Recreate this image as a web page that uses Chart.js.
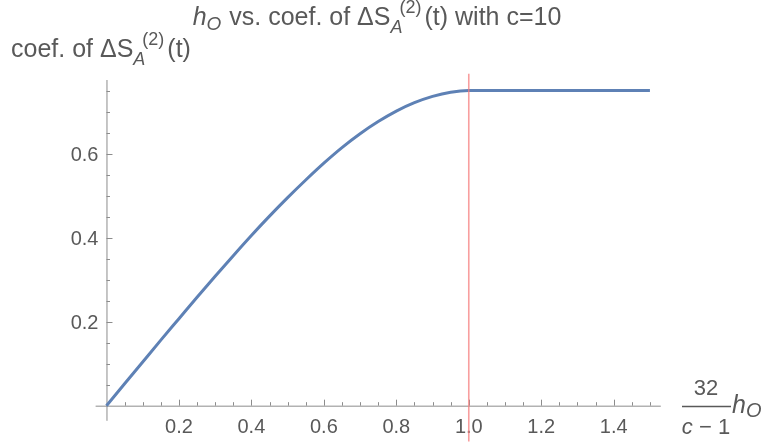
<!DOCTYPE html>
<html>
<head>
<meta charset="utf-8">
<script src="https://cdn.jsdelivr.net/npm/chart.js@4.4.1/dist/chart.umd.min.js"></script>
<style>
  body { margin: 0; background: #fff; }
  #wrap { width: 767px; height: 442px; }
</style>
</head>
<body>
<div id="wrap"><canvas id="coefChart" width="767" height="442"></canvas></div>
<script>
// values (x = 32 h_O/(c-1), y = coef. of dS_A^(2)(t))
const hValues    = [0, 0.05, 0.1, 0.15, 0.2, 0.25, 0.3, 0.35, 0.4, 0.45, 0.5, 0.55, 0.6, 0.65, 0.7, 0.75, 0.8, 0.85, 0.9, 0.95, 1.0, 1.25, 1.5];
const coefValues = [0, 0.052, 0.104, 0.156, 0.207, 0.258, 0.308, 0.357, 0.405, 0.451, 0.495, 0.537, 0.577, 0.614, 0.647, 0.676, 0.701, 0.721, 0.736, 0.746, 0.75, 0.75, 0.75];
const xTickLabels = [0.2, 0.4, 0.6, 0.8, 1.0, 1.2, 1.4];
const yTickLabels = [0.2, 0.4, 0.6];
const thresholdX = 1.0;

const FONT = '"Liberation Sans", Arial, sans-serif';
const TEXT = '#595959';
const AXIS = '#8c8c8c';

function setFont(ctx, size, italic) {
    ctx.font = (italic ? 'italic ' : '') + size + 'px ' + FONT;
}

// draw a run of text pieces: [text, size, italic, dy, extra advance]
function drawRich(ctx, parts, x, y, align) {
    let total = 0;
    parts.forEach(p => { setFont(ctx, p[1], p[2]); total += ctx.measureText(p[0]).width + (p[4] || 0); });
    let cx = align === 'center' ? x - total / 2 : x;
    ctx.textAlign = 'left';
    ctx.textBaseline = 'alphabetic';
    parts.forEach(p => {
        setFont(ctx, p[1], p[2]);
        ctx.fillText(p[0], cx, y + p[3]);
        cx += ctx.measureText(p[0]).width + (p[4] || 0);
    });
}

const axesPlugin = {
    id: 'mathAxes',
    beforeDatasetsDraw(chart) {
        const ctx = chart.ctx;
        const xs = chart.scales.x, ys = chart.scales.y;
        const area = chart.chartArea;
        const x0 = xs.getPixelForValue(0), y0 = ys.getPixelForValue(0);
        ctx.save();
        ctx.strokeStyle = AXIS;
        ctx.lineWidth = 1;
        ctx.beginPath();
        ctx.moveTo(area.left, y0 + 0.5); ctx.lineTo(area.right, y0 + 0.5);
        ctx.moveTo(x0 + 0.5, area.top); ctx.lineTo(x0 + 0.5, area.bottom);
        ctx.stroke();

        // x ticks (minor every 0.05, major every 0.2)
        ctx.beginPath();
        for (let i = 1; i <= 30; i++) {
            const v = i * 0.05;
            const px = Math.round(xs.getPixelForValue(v)) + 0.5;
            const len = (i % 4 === 0) ? 6 : 3.5;
            ctx.moveTo(px, y0); ctx.lineTo(px, y0 - len);
        }
        for (let i = 1; i <= 15; i++) {
            const v = i * 0.05;
            const py = Math.round(ys.getPixelForValue(v)) + 0.5;
            const len = (i % 4 === 0) ? 6 : 3.5;
            ctx.moveTo(x0, py); ctx.lineTo(x0 + len, py);
        }
        ctx.stroke();

        ctx.fillStyle = TEXT;
        setFont(ctx, 20, false);
        ctx.textAlign = 'center';
        ctx.textBaseline = 'alphabetic';
        xTickLabels.forEach(v => {
            ctx.fillText(v.toFixed(1), xs.getPixelForValue(v), y0 + 27.5);
        });
        ctx.textAlign = 'right';
        ctx.textBaseline = 'middle';
        yTickLabels.forEach(v => {
            ctx.fillText(v.toFixed(1), x0 - 8, ys.getPixelForValue(v) + 1.5);
        });
        ctx.restore();
    },
    afterDatasetsDraw(chart) {
        const ctx = chart.ctx;
        const xs = chart.scales.x, ys = chart.scales.y;
        ctx.save();
        // red marker line at x = 1
        const px = xs.getPixelForValue(thresholdX);
        ctx.strokeStyle = 'rgba(245, 125, 125, 0.75)';
        ctx.lineWidth = 1.6;
        ctx.beginPath();
        ctx.moveTo(px, ys.getPixelForValue(0.79));
        ctx.lineTo(px, ys.getPixelForValue(-0.085));
        ctx.stroke();

        ctx.fillStyle = TEXT;
        // title
        drawRich(ctx, [
            ['h', 25, true, 0], ['O', 19, true, 5, 1],
            [' vs. coef. of \u0394S', 25, false, 0], ['A', 18, true, 8, -3],
            ['(2)', 18, false, -12, 3], ['(t) with c=10', 25, false, 0]
        ], 377, 25, 'center');
        // y axis label
        drawRich(ctx, [
            ['coef. of \u0394S', 25, false, 0], ['A', 18, true, 8, -3],
            ['(2)', 18, false, -12, 3], ['(t)', 25, false, 0]
        ], 11, 57, 'left');
        // x axis label: 32/(c-1) h_O
        setFont(ctx, 22, false);
        ctx.textAlign = 'center';
        ctx.textBaseline = 'alphabetic';
        ctx.fillText('32', 706, 395);
        drawRich(ctx, [['c', 22, true, 0], [' \u2212 1', 22, false, 0]], 706, 434, 'center');
        ctx.strokeStyle = TEXT;
        ctx.lineWidth = 1.5;
        ctx.beginPath();
        ctx.moveTo(682, 406.5); ctx.lineTo(731, 406.5);
        ctx.stroke();
        drawRich(ctx, [['h', 25, true, 0], ['O', 20, true, 4]], 732, 413, 'left');
        ctx.restore();
    }
};

const points = hValues.map((h, i) => ({ x: h, y: coefValues[i] }));

new Chart(document.getElementById('coefChart').getContext('2d'), {
    type: 'line',
    data: {
        datasets: [{
            data: points,
            borderColor: '#5e81b5',
            borderWidth: 3,
            pointRadius: 0,
            fill: false,
            cubicInterpolationMode: 'monotone'
        }]
    },
    options: {
        responsive: false,
        animation: false,
        devicePixelRatio: 1,
        layout: { padding: { left: 95.6, right: 106.2, top: 80, bottom: 21.2 } },
        plugins: { legend: { display: false }, tooltip: { enabled: false } },
        scales: {
            x: { type: 'linear', min: -0.03, max: 1.53, display: false },
            y: { type: 'linear', min: -0.036, max: 0.775, display: false }
        }
    },
    plugins: [axesPlugin]
});
</script>
</body>
</html>
